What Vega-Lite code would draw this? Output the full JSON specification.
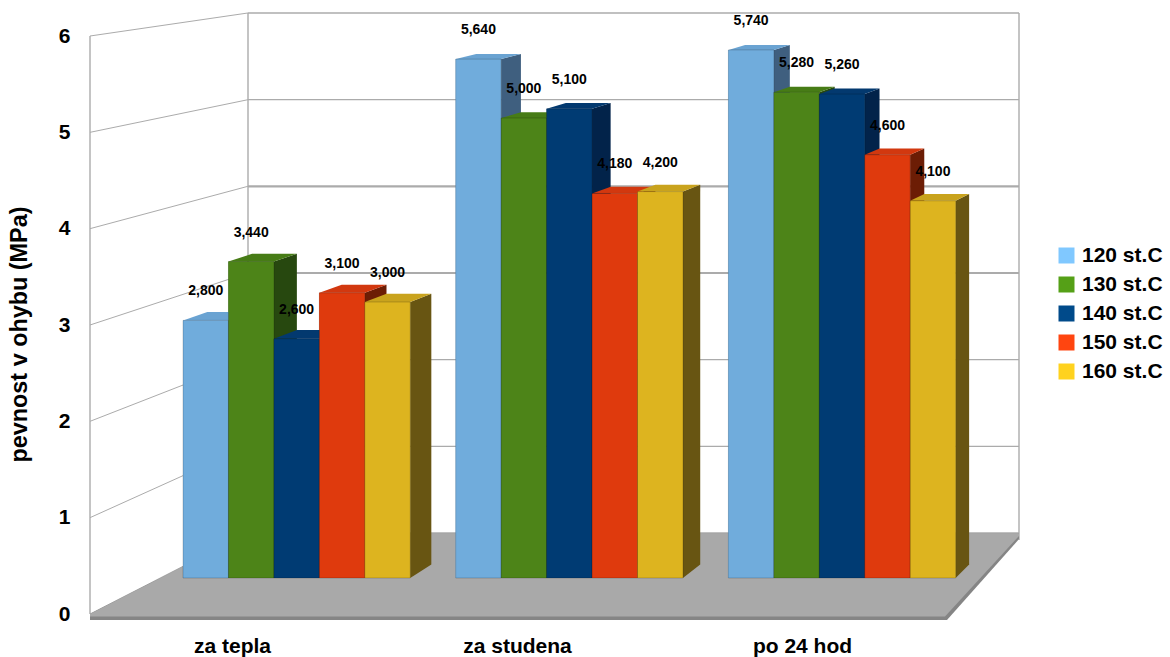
{
  "$schema": "https://vega.github.io/schema/vega-lite/v6.json",
  "width": 1170,
  "height": 657,
  "padding": 0,
  "autosize": {"type": "none"},
  "background": "white",
  "config": {
    "view": {"stroke": null},
    "font": "Liberation Sans",
    "locale": {"number": {"decimal": ",", "thousands": " ", "grouping": [3], "currency": ["", " Kč"]}}
  },
  "datasets": {
    "pevnost": [
      {"cas": "za tepla", "teplota": "120 st.C", "klic": "za tepla 120", "pevnost": 2.8},
      {"cas": "za tepla", "teplota": "130 st.C", "klic": "za tepla 130", "pevnost": 3.44},
      {"cas": "za tepla", "teplota": "140 st.C", "klic": "za tepla 140", "pevnost": 2.6},
      {"cas": "za tepla", "teplota": "150 st.C", "klic": "za tepla 150", "pevnost": 3.1},
      {"cas": "za tepla", "teplota": "160 st.C", "klic": "za tepla 160", "pevnost": 3.0},
      {"cas": "za studena", "teplota": "120 st.C", "klic": "za studena 120", "pevnost": 5.64},
      {"cas": "za studena", "teplota": "130 st.C", "klic": "za studena 130", "pevnost": 5.0},
      {"cas": "za studena", "teplota": "140 st.C", "klic": "za studena 140", "pevnost": 5.1},
      {"cas": "za studena", "teplota": "150 st.C", "klic": "za studena 150", "pevnost": 4.18},
      {"cas": "za studena", "teplota": "160 st.C", "klic": "za studena 160", "pevnost": 4.2},
      {"cas": "po 24 hod", "teplota": "120 st.C", "klic": "po 24 hod 120", "pevnost": 5.74},
      {"cas": "po 24 hod", "teplota": "130 st.C", "klic": "po 24 hod 130", "pevnost": 5.28},
      {"cas": "po 24 hod", "teplota": "140 st.C", "klic": "po 24 hod 140", "pevnost": 5.26},
      {"cas": "po 24 hod", "teplota": "150 st.C", "klic": "po 24 hod 150", "pevnost": 4.6},
      {"cas": "po 24 hod", "teplota": "160 st.C", "klic": "po 24 hod 160", "pevnost": 4.1}
    ],
    "urovne": [
      {"mpa": 0, "zadni": 0.841},
      {"mpa": 1, "zadni": 1.741},
      {"mpa": 2, "zadni": 2.64},
      {"mpa": 3, "zadni": 3.54},
      {"mpa": 4, "zadni": 4.44},
      {"mpa": 5, "zadni": 5.339},
      {"mpa": 6, "zadni": 6.239}
    ],
    "skupiny": [{"cas": "za tepla"}, {"cas": "za studena"}, {"cas": "po 24 hod"}],
    "jeden": [{"prvek": "ramec"}]
  },
  "layer": [
    {
      "description": "Side wall lines running from the front edge to the back wall; carries the value axis",
      "data": {"name": "urovne"},
      "mark": {"type": "rule", "color": "#ababab"},
      "encoding": {
        "x": {"datum": 0, "type": "quantitative", "scale": {"domain": [0, 1], "range": [90, 248]}, "axis": null},
        "x2": {"datum": 1},
        "y": {
          "field": "mpa",
          "type": "quantitative",
          "scale": {"domain": [0, 6], "range": [614, 36]},
          "axis": {
            "orient": "left",
            "offset": -90,
            "values": [0, 1, 2, 3, 4, 5, 6],
            "format": "d",
            "domain": false,
            "ticks": false,
            "grid": false,
            "labelPadding": 20,
            "labelFontSize": 21,
            "labelFontWeight": "bold",
            "labelColor": "#000",
            "title": "pevnost v ohybu (MPa)",
            "titleFontSize": 23.4,
            "titleFontWeight": "bold",
            "titleColor": "#000",
            "titleX": -59,
            "titleY": 334
          }
        },
        "y2": {"field": "zadni"}
      }
    },
    {
      "description": "Back wall grid lines",
      "data": {"name": "urovne"},
      "mark": {"type": "rule", "color": "#ababab"},
      "encoding": {
        "x": {"datum": 0, "type": "quantitative", "scale": {"domain": [0, 1], "range": [248, 1019]}, "axis": null},
        "x2": {"datum": 1},
        "y": {"field": "mpa", "type": "quantitative", "scale": {"domain": [0, 6], "range": [533, 13]}, "axis": null},
        "strokeWidth": {"condition": {"test": "datum.mpa === 3 || datum.mpa === 4", "value": 2.2}, "value": 1.4}
      }
    },
    {
      "description": "Vertical edges of the walls",
      "data": {"values": [{"hrana": 0, "spodek": 0, "vrsek": 1}, {"hrana": 158, "spodek": 0.14, "vrsek": 1.04}, {"hrana": 929, "spodek": 0.128, "vrsek": 1.04}]},
      "mark": {"type": "rule", "color": "#ababab", "strokeWidth": 1.4},
      "encoding": {
        "x": {"field": "hrana", "type": "quantitative", "scale": {"domain": [0, 929], "range": [90, 1019]}, "axis": null},
        "y": {"field": "spodek", "type": "quantitative", "scale": {"domain": [0, 1], "range": [614, 36]}, "axis": null},
        "y2": {"field": "vrsek"}
      }
    },
    {
      "description": "Front lip of the floor plate",
      "data": {"name": "jeden"},
      "mark": {"type": "point", "filled": true, "opacity": 1, "size": 4, "color": "#858585", "shape": "M0 0L158 -80.5L929 -80.5L929 -75L857 6L0 6Z"},
      "encoding": {
        "x": {"datum": 0, "type": "quantitative", "scale": {"domain": [0, 1], "range": [90, 1019]}, "axis": null},
        "y": {"datum": 0, "type": "quantitative", "scale": {"domain": [0, 6], "range": [614, 36]}, "axis": null}
      }
    },
    {
      "description": "Floor plate",
      "data": {"name": "jeden"},
      "mark": {"type": "point", "filled": true, "opacity": 1, "size": 4, "color": "#a9a9a9", "shape": "M0 0L158 -80.5L929 -80.5L929 -78L855 2.5L0 2.5Z"},
      "encoding": {
        "x": {"datum": 0, "type": "quantitative", "scale": {"domain": [0, 1], "range": [90, 1019]}, "axis": null},
        "y": {"datum": 0, "type": "quantitative", "scale": {"domain": [0, 6], "range": [614, 36]}, "axis": null}
      }
    },
    {
      "description": "Category axis along the front edge of the floor",
      "data": {"name": "skupiny"},
      "mark": {"type": "point", "opacity": 0},
      "encoding": {
        "x": {
          "field": "cas",
          "type": "nominal",
          "sort": null,
          "scale": {"type": "band", "domain": ["za tepla", "za studena", "po 24 hod"], "range": [90, 945], "paddingInner": 0, "paddingOuter": 0},
          "axis": {
            "orient": "bottom",
            "offset": -30,
            "title": null,
            "domain": false,
            "ticks": false,
            "grid": false,
            "labelAngle": 0,
            "labelPadding": 8,
            "labelFontSize": 21,
            "labelFontWeight": "bold",
            "labelColor": "#000"
          }
        }
      }
    },
    {
      "description": "The bars: side faces, top faces, front faces and value labels",
      "data": {"name": "pevnost"},
      "encoding": {
        "x": {
          "field": "klic",
          "type": "nominal",
          "scale": {
            "type": "band",
            "domain": [
              "za tepla 120", "za tepla 130", "za tepla 140", "za tepla 150", "za tepla 160", "mezera 1",
              "za studena 120", "za studena 130", "za studena 140", "za studena 150", "za studena 160", "mezera 2",
              "po 24 hod 120", "po 24 hod 130", "po 24 hod 140", "po 24 hod 150", "po 24 hod 160"
            ],
            "range": [183, 955.65],
            "paddingInner": 0,
            "paddingOuter": 0
          },
          "axis": null
        },
        "y": {
          "field": "pevnost",
          "type": "quantitative",
          "scale": {"domain": [0, 6], "range": [578, 26]},
          "axis": null
        }
      },
      "layer": [
        {
          "description": "Carries the legend with its brighter swatch colours; the front faces cover it",
          "mark": {"type": "bar"},
          "encoding": {
            "color": {
              "field": "teplota",
              "type": "nominal",
              "scale": {"domain": ["120 st.C", "130 st.C", "140 st.C", "150 st.C", "160 st.C"], "range": ["#80c8ff", "#55a017", "#004a8a", "#ff4510", "#ffd21e"]},
              "legend": {
                "orient": "none",
                "legendX": 1056,
                "legendY": 245,
                "title": null,
                "symbolType": "square",
                "symbolSize": 256,
                "symbolStrokeWidth": 0,
                "labelFontSize": 21,
                "labelFontWeight": "bold",
                "labelColor": "#000",
                "labelOffset": 5,
                "rowPadding": 7
              }
            }
          }
        },
        {
          "description": "Side faces",
          "mark": {"type": "point", "filled": true, "opacity": 1, "size": 4},
          "encoding": {
            "color": {
              "field": "teplota",
              "type": "nominal",
              "legend": null,
              "scale": {"domain": ["120 st.C", "130 st.C", "140 st.C", "150 st.C", "160 st.C"], "range": ["#3f5f7f", "#27480f", "#02234a", "#6c1d05", "#685512"]}
            },
            "shape": {
              "field": "klic",
              "type": "nominal",
              "legend": null,
              "scale": {
                "domain": ["za tepla 120", "za tepla 130", "za tepla 140", "za tepla 150", "za tepla 160", "za studena 120", "za studena 130", "za studena 140", "za studena 150", "za studena 160", "po 24 hod 120", "po 24 hod 130", "po 24 hod 140", "po 24 hod 150", "po 24 hod 160"],
                "range": [
                  "M22.7 0L46.3 -8.4L46.3 244.1L22.7 257.6Z",
                  "M22.7 0L45.7 -7.7L45.7 303L22.7 316.5Z",
                  "M22.7 0L45 -8.7L45 225.7L22.7 239.2Z",
                  "M22.7 0L44.4 -8.1L44.4 271.7L22.7 285.2Z",
                  "M22.7 0L43.8 -8.2L43.8 262.5L22.7 276Z",
                  "M22.7 0L42.5 -5.1L42.5 505.4L22.7 518.9Z",
                  "M22.7 0L41.9 -5.8L41.9 446.5L22.7 460Z",
                  "M22.7 0L41.3 -5.7L41.3 455.7L22.7 469.2Z",
                  "M22.7 0L40.6 -6.8L40.6 371.1L22.7 384.6Z",
                  "M22.7 0L40 -6.8L40 372.9L22.7 386.4Z",
                  "M22.7 0L38.7 -5L38.7 514.6L22.7 528.1Z",
                  "M22.7 0L38.1 -5.5L38.1 472.3L22.7 485.8Z",
                  "M22.7 0L37.5 -5.5L37.5 470.4L22.7 483.9Z",
                  "M22.7 0L36.8 -6.3L36.8 409.7L22.7 423.2Z",
                  "M22.7 0L36.2 -6.9L36.2 363.7L22.7 377.2Z"
                ]
              }
            }
          }
        },
        {
          "description": "Top faces",
          "mark": {"type": "point", "filled": true, "opacity": 1, "size": 4},
          "encoding": {
            "color": {
              "field": "teplota",
              "type": "nominal",
              "legend": null,
              "scale": {"domain": ["120 st.C", "130 st.C", "140 st.C", "150 st.C", "160 st.C"], "range": ["#6aa3d2", "#477c16", "#03396f", "#d2380f", "#c9a31d"]}
            },
            "shape": {
              "field": "klic",
              "type": "nominal",
              "legend": null,
              "scale": {
                "domain": ["za tepla 120", "za tepla 130", "za tepla 140", "za tepla 150", "za tepla 160", "za studena 120", "za studena 130", "za studena 140", "za studena 150", "za studena 160", "po 24 hod 120", "po 24 hod 130", "po 24 hod 140", "po 24 hod 150", "po 24 hod 160"],
                "range": [
                  "M-22.7 0L1.6 -8.4L46.3 -8.4L22.7 0Z",
                  "M-22.7 0L0.9 -7.7L45.7 -7.7L22.7 0Z",
                  "M-22.7 0L0.3 -8.7L45 -8.7L22.7 0Z",
                  "M-22.7 0L-0.4 -8.1L44.4 -8.1L22.7 0Z",
                  "M-22.7 0L-1 -8.2L43.8 -8.2L22.7 0Z",
                  "M-22.7 0L-2.2 -5.1L42.5 -5.1L22.7 0Z",
                  "M-22.7 0L-2.9 -5.8L41.9 -5.8L22.7 0Z",
                  "M-22.7 0L-3.5 -5.7L41.3 -5.7L22.7 0Z",
                  "M-22.7 0L-4.1 -6.8L40.6 -6.8L22.7 0Z",
                  "M-22.7 0L-4.8 -6.8L40 -6.8L22.7 0Z",
                  "M-22.7 0L-6 -5L38.7 -5L22.7 0Z",
                  "M-22.7 0L-6.7 -5.5L38.1 -5.5L22.7 0Z",
                  "M-22.7 0L-7.3 -5.5L37.5 -5.5L22.7 0Z",
                  "M-22.7 0L-7.9 -6.3L36.8 -6.3L22.7 0Z",
                  "M-22.7 0L-8.6 -6.9L36.2 -6.9L22.7 0Z"
                ]
              }
            }
          }
        },
        {
          "description": "Front faces",
          "mark": {"type": "bar", "stroke": "#000", "strokeOpacity": 0.18, "strokeWidth": 1},
          "encoding": {
            "color": {
              "field": "teplota",
              "type": "nominal",
              "legend": null,
              "scale": {"domain": ["120 st.C", "130 st.C", "140 st.C", "150 st.C", "160 st.C"], "range": ["#70acdc", "#4d8418", "#003b73", "#df3a0d", "#ddb41f"]}
            }
          }
        },
        {
          "description": "Value labels",
          "mark": {"type": "text", "dy": -29, "align": "center", "baseline": "middle", "fontSize": 14, "fontWeight": "bold", "color": "#000"},
          "encoding": {
            "text": {"field": "pevnost", "type": "quantitative", "format": ".3f"}
          }
        }
      ],
      "resolve": {"scale": {"color": "independent", "shape": "independent"}}
    }
  ],
  "resolve": {"scale": {"x": "independent", "y": "independent", "color": "independent", "shape": "independent"}, "axis": {"x": "independent", "y": "independent"}}
}
